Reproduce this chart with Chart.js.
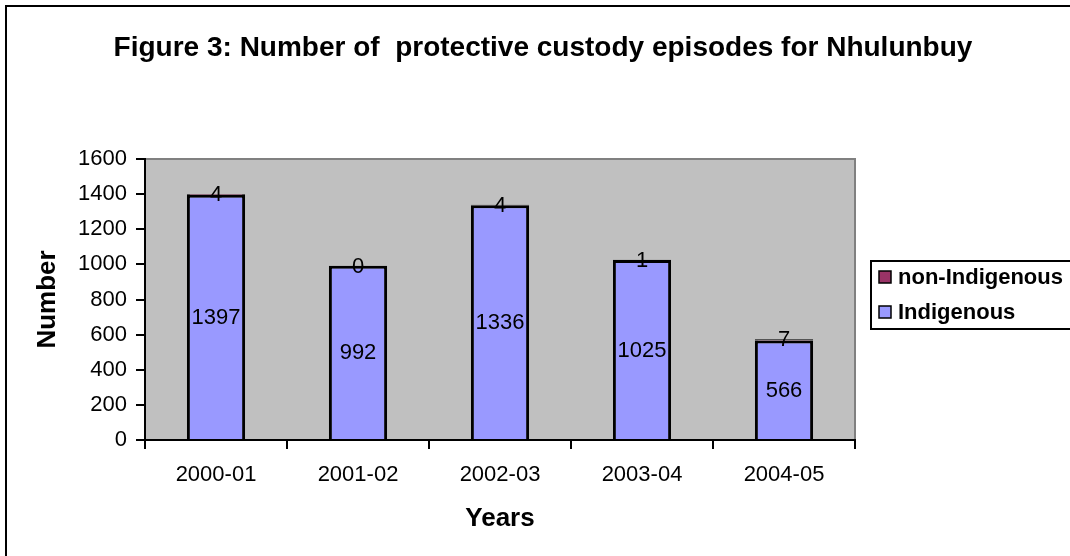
<!DOCTYPE html>
<html>
<head>
<meta charset="utf-8">
<script src="https://cdn.jsdelivr.net/npm/chart.js@4.4.1/dist/chart.umd.min.js"></script>
<style>
html,body{margin:0;padding:0;background:#fff;}
canvas{display:block;}
</style>
</head>
<body>
<canvas id="c" width="1070" height="556"></canvas>
<script>
const categories = ['2000-01', '2001-02', '2002-03', '2003-04', '2004-05'];
const indigenous = [1397, 992, 1336, 1025, 566];
const nonIndigenous = [4, 0, 4, 1, 7];
const seriesNames = ['Indigenous', 'non-Indigenous'];
const seriesColors = ['#9999FF', '#993366'];
const yTicks = [0, 200, 400, 600, 800, 1000, 1200, 1400, 1600];
const titleText = 'Figure 3: Number of  protective custody episodes for Nhulunbuy';
const xTitle = 'Years';
const yTitle = 'Number';

const FONT = "Arial, 'Liberation Sans', sans-serif";
Chart.defaults.font.family = FONT;
Chart.defaults.color = '#000';

const bgPlugin = {
  id: 'bg',
  beforeDraw(chart) {
    const {ctx, chartArea: a} = chart;
    ctx.save();
    ctx.fillStyle = '#fff';
    ctx.fillRect(0, 0, chart.width, chart.height);
    ctx.fillStyle = '#C0C0C0';
    ctx.fillRect(a.left, a.top, a.right - a.left, a.bottom - a.top);
    ctx.strokeStyle = '#808080';
    ctx.lineWidth = 2;
    ctx.beginPath();
    ctx.moveTo(a.left, a.top);
    ctx.lineTo(a.right, a.top);
    ctx.lineTo(a.right, a.bottom);
    ctx.stroke();
    ctx.restore();
  },
  afterDraw(chart) {
    const ctx = chart.ctx;
    ctx.save();
    ctx.strokeStyle = '#000';
    ctx.lineWidth = 2;
    ctx.beginPath();
    ctx.moveTo(6, chart.height);
    ctx.lineTo(6, 6);
    ctx.lineTo(chart.width, 6);
    ctx.stroke();
    ctx.strokeRect(871, 261, 210, 68);
    const items = [
      {name: seriesNames[1], color: seriesColors[1], y: 277},
      {name: seriesNames[0], color: seriesColors[0], y: 312}
    ];
    ctx.font = 'bold 22px ' + FONT;
    ctx.textBaseline = 'middle';
    ctx.textAlign = 'left';
    items.forEach(it => {
      ctx.fillStyle = it.color;
      ctx.fillRect(879, it.y - 6, 12, 12);
      ctx.lineWidth = 1.5;
      ctx.strokeStyle = '#000';
      ctx.strokeRect(879, it.y - 6, 12, 12);
      ctx.fillStyle = '#000';
      ctx.fillText(it.name, 898, it.y + 1);
    });
    ctx.restore();
  }
};

const labelPlugin = {
  id: 'vals',
  afterDatasetsDraw(chart) {
    const ctx = chart.ctx;
    ctx.save();
    ctx.font = '22px ' + FONT;
    ctx.fillStyle = '#000';
    ctx.textAlign = 'center';
    ctx.textBaseline = 'middle';
    chart.data.datasets.forEach((ds, di) => {
      const meta = chart.getDatasetMeta(di);
      meta.data.forEach((el, i) => {
        const v = ds.data[i];
        const y = di === 0 ? (el.y + el.base) / 2 : el.y;
        ctx.fillText(String(v), el.x, y + 1);
      });
    });
    ctx.restore();
  }
};

new Chart(document.getElementById('c'), {
  type: 'bar',
  data: {
    labels: categories,
    datasets: [
      {label: seriesNames[0], data: indigenous, backgroundColor: seriesColors[0], borderColor: '#000', borderWidth: 3,
       categoryPercentage: 1, barPercentage: 0.41},
      {label: seriesNames[1], data: nonIndigenous, backgroundColor: seriesColors[1], borderColor: '#000', borderWidth: 3,
       categoryPercentage: 1, barPercentage: 0.41}
    ]
  },
  options: {
    responsive: false,
    animation: false,
    devicePixelRatio: 1,
    layout: {padding: {left: 16, right: 0, top: 0, bottom: 0}},
    plugins: {
      legend: {display: false},
      tooltip: {enabled: false},
      title: {
        display: true, text: titleText, color: '#000',
        font: {size: 28, weight: 'bold'},
        padding: {top: 31, bottom: 94.4}
      }
    },
    scales: {
      x: {
        stacked: true,
        grid: {offset: true, drawOnChartArea: false, drawTicks: true, tickLength: 9, color: '#000', lineWidth: 2},
        border: {display: true, color: '#000', width: 2},
        ticks: {font: {size: 22}, color: '#000', padding: 13, maxRotation: 0},
        title: {display: true, text: xTitle, font: {size: 26, weight: 'bold'}, color: '#000', padding: {top: 0, bottom: 22}},
        afterFit(s) { s.height = 116; }
      },
      y: {
        stacked: true,
        min: 0, max: 1600,
        afterBuildTicks(s) { s.ticks = yTicks.map(v => ({value: v})); },
        grid: {drawOnChartArea: false, drawTicks: true, tickLength: 9, color: '#000', lineWidth: 2},
        border: {display: true, color: '#000', width: 2},
        ticks: {font: {size: 22}, color: '#000', padding: 9, callback: v => String(v)},
        title: {display: true, text: yTitle, font: {size: 26, weight: 'bold'}, color: '#000', padding: {top: 16, bottom: 0}},
        afterFit(s) { s.width = 129; }
      },
      yR: {
        position: 'right',
        display: true,
        grid: {display: false, drawTicks: false},
        border: {display: false},
        ticks: {display: false},
        afterFit(s) { s.width = 215; }
      }
    }
  },
  plugins: [bgPlugin, labelPlugin]
});
</script>
</body>
</html>
